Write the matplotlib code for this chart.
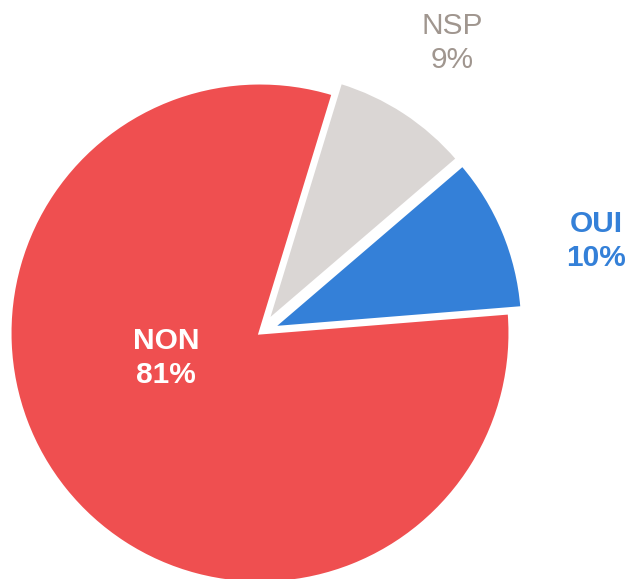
import matplotlib
matplotlib.use('Agg')
import matplotlib.pyplot as plt

# donnees du sondage
categories = ['OUI', 'NSP', 'NON']
values = [10, 9, 81]
slice_colors = ['#3480D8', '#DAD6D4', '#EF4F50']
label_colors = ['#3480D8', '#A0968F', 'white']
label_weights = ['bold', 'normal', 'bold']

# position des etiquettes (unites du rayon, centre du camembert = 0,0)
label_pos = [(1.344, 0.368), (0.768, 1.16), (-0.376, -0.10)]

plt.rcParams['font.family'] = ['Liberation Sans', 'DejaVu Sans']

fig = plt.figure(figsize=(6.34, 5.79), dpi=100)
ax = fig.add_axes([0, 0, 1, 1])

ax.pie(values, colors=slice_colors, startangle=4.6, counterclock=True,
       explode=[0.055, 0.055, 0], radius=1,
       wedgeprops=dict(edgecolor='white', linewidth=2.2))

for cat, val, pos, col, w in zip(categories, values, label_pos, label_colors, label_weights):
    ax.text(pos[0], pos[1], '{}\n{}%'.format(cat, val), ha='center', va='center',
            color=col, fontsize=21.5, fontweight=w, linespacing=1.3)

ax.set_xlim(-1.04, 1.496)
ax.set_ylim(-0.984, 1.332)
ax.axis('off')

plt.savefig('out.png', dpi=100)
